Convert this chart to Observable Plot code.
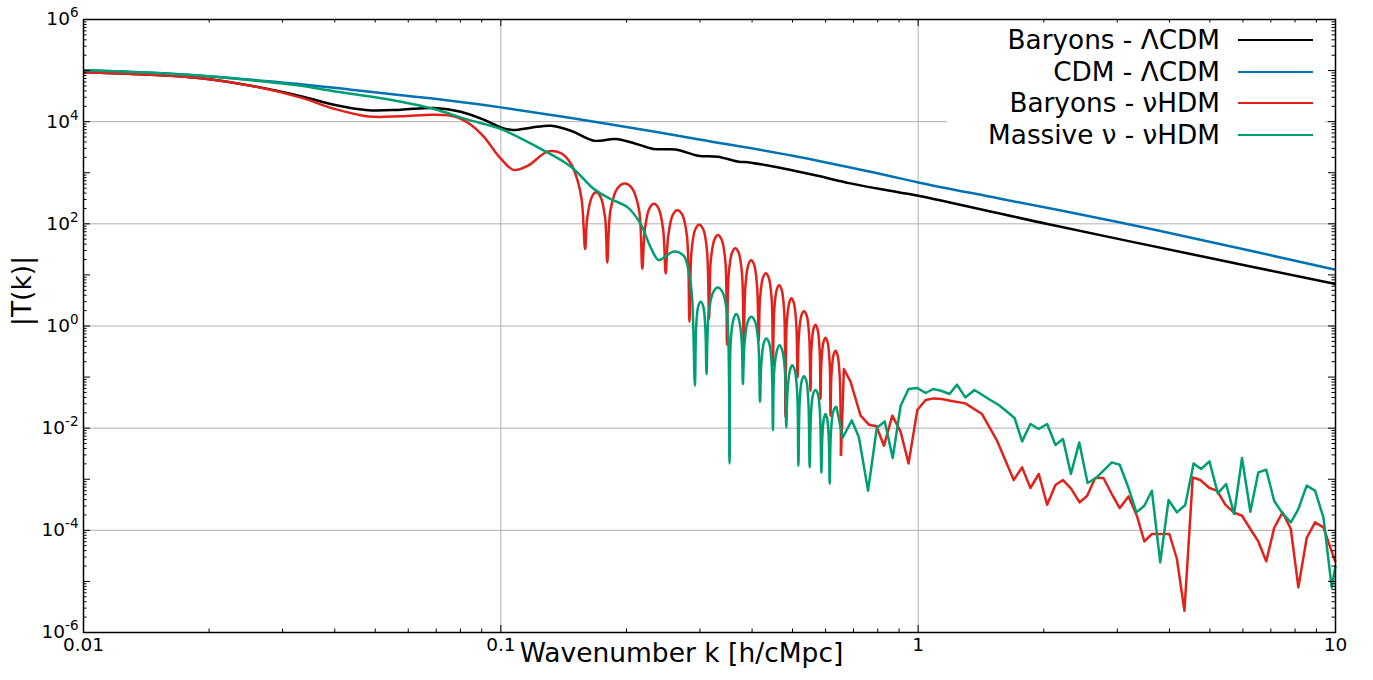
<!DOCTYPE html>
<html>
<head>
<meta charset="utf-8">
<script src="https://cdn.jsdelivr.net/npm/d3@7"></script>
<script src="https://cdn.jsdelivr.net/npm/@observablehq/plot@0.6"></script>
<style>
  html, body { margin: 0; padding: 0; background: #fff; }
  #wrap { position: relative; width: 1373px; height: 680px; font-family: "DejaVu Sans", sans-serif; }
  #legend { position: absolute; left: 947px; top: 24px; width: 378px; height: 128px; background: #fff; }
  .row { display: flex; justify-content: flex-end; align-items: center; height: 31.7px; padding-right: 12px;
         font-size: 26.3px; color: #000; white-space: nowrap; }
  .sw { width: 75px; height: 0; border-top: 2.5px solid; margin-left: 18px; }
</style>
</head>
<body>
<div id="wrap"></div>
<script>
// ---- Data: values, stored as powers of ten (log10 k, log10 |T|) ----
const seriesNames = ["Baryons - \u039BCDM", "CDM - \u039BCDM", "Baryons - \u03BDHDM", "Massive \u03BD - \u03BDHDM"];
const seriesColors = ["#000000", "#0072B2", "#E3211B", "#009E73"];

const blackLog10K = [-2.000, -1.838, -1.718, -1.599, -1.479, -1.400, -1.318, -1.239, -1.160, -1.096,
  -1.041, -1.000, -0.971, -0.928, -0.880, -0.832, -0.777, -0.725, -0.677, -0.634,
  -0.581, -0.528, -0.480, -0.433, -0.401, -0.323, -0.241, -0.162, -0.042, 0.000, 0.310, 0.676, 1.000];
const blackLog10T = [4.969, 4.920, 4.851, 4.704, 4.499, 4.332, 4.225, 4.235, 4.268, 4.195,
  4.039, 3.888, 3.837, 3.882, 3.921, 3.823, 3.628, 3.661, 3.569, 3.465,
  3.455, 3.334, 3.314, 3.222, 3.197, 3.085, 2.942, 2.792, 2.610, 2.551, 1.997, 1.370, 0.822];

const blueLog10K = [-2.000, -1.838, -1.718, -1.599, -1.479, -1.359, -1.239, -1.120, -1.000,
  -0.761, -0.521, -0.282, -0.090, 0.000, 0.197, 0.484, 0.676, 1.000];
const blueLog10T = [5.008, 4.959, 4.900, 4.822, 4.734, 4.626, 4.518, 4.411, 4.280,
  3.980, 3.647, 3.305, 2.976, 2.811, 2.492, 2.028, 1.690, 1.102];

// Baryons - nuHDM: smooth part + oscillating arches (dip, shoulders, peak)
const redOscLog10K = [-2.000, -1.838, -1.718, -1.599, -1.479, -1.400, -1.318, -1.239, -1.160, -1.108,
  -1.072, -1.041, -1.000, -0.969, -0.935, -0.887, -0.856, -0.832, -0.816, -0.806,
  -0.798, -0.793, -0.782, -0.772, -0.761, -0.750,
  -0.745, -0.737, -0.720, -0.703, -0.686, -0.669,
  -0.661, -0.655, -0.644, -0.633, -0.622, -0.611,
  -0.605, -0.599, -0.588, -0.577, -0.565, -0.554,
  -0.548, -0.543, -0.534, -0.525, -0.515, -0.506,
  -0.501, -0.497, -0.488, -0.480, -0.471, -0.462,
  -0.458, -0.454, -0.446, -0.438, -0.430, -0.422,
  -0.418, -0.414, -0.407, -0.400, -0.393, -0.386,
  -0.382, -0.379, -0.372, -0.365, -0.358, -0.351,
  -0.348, -0.345, -0.339, -0.333, -0.327, -0.321,
  -0.318, -0.315, -0.309, -0.304, -0.298, -0.292,
  -0.289, -0.286, -0.280, -0.274, -0.267, -0.261,
  -0.258, -0.256, -0.251, -0.246, -0.241, -0.236,
  -0.234, -0.232, -0.227, -0.222, -0.217, -0.212,
  -0.210, -0.208, -0.203, -0.198, -0.193, -0.188,
  -0.185];
const redOscLog10T = [4.969, 4.920, 4.851, 4.704, 4.470, 4.254, 4.103, 4.107, 4.137, 4.097,
  3.941, 3.706, 3.275, 3.054, 3.138, 3.418, 3.383, 3.177, 2.845, 2.453,
  1.507, 2.106, 2.526, 2.616, 2.526, 2.106,
  1.245, 2.282, 2.702, 2.792, 2.702, 2.282,
  1.122, 1.884, 2.304, 2.394, 2.304, 1.884,
  1.030, 1.757, 2.177, 2.267, 2.177, 1.757,
  0.084, 1.473, 1.893, 1.983, 1.893, 1.473,
  0.143, 1.272, 1.692, 1.782, 1.692, 1.272,
  -0.366, 1.013, 1.433, 1.523, 1.433, 1.013,
  -0.347, 0.778, 1.198, 1.288, 1.198, 0.778,
  -0.288, 0.524, 0.944, 1.034, 0.944, 0.524,
  -0.777, 0.289, 0.709, 0.799, 0.709, 0.289,
  -1.789, 0.034, 0.454, 0.544, 0.454, 0.034,
  -1.006, -0.220, 0.200, 0.290, 0.200, -0.220,
  -1.267, -0.485, -0.065, 0.025, -0.065, -0.485,
  -1.423, -0.739, -0.319, -0.229, -0.319, -0.739,
  -1.756, -0.994, -0.574, -0.484, -0.574, -0.994,
  -2.539];
// Baryons - nuHDM: noisy tail
const redTailLog10K = [-0.185, -0.178, -0.162, -0.138, -0.118, -0.100, -0.082, -0.062, -0.042, -0.023,
  -0.002, 0.018, 0.037, 0.057, 0.077, 0.113, 0.153, 0.189, 0.229, 0.249,
  0.269, 0.289, 0.309, 0.329, 0.347, 0.366, 0.387, 0.405, 0.424, 0.444,
  0.464, 0.483, 0.504, 0.524, 0.542, 0.560, 0.602, 0.620, 0.638, 0.658,
  0.676, 0.698, 0.716, 0.736, 0.756, 0.776, 0.796, 0.815, 0.834, 0.853,
  0.873, 0.893, 0.911, 0.931, 0.951, 0.971, 1.000];
const redTailLog10T = [-2.539, -0.842, -1.090, -1.756, -1.932, -1.962, -2.343, -1.756, -2.069, -2.690,
  -1.644, -1.449, -1.417, -1.429, -1.462, -1.515, -1.723, -2.245, -3.015, -2.768,
  -3.171, -2.897, -3.498, -3.113, -3.015, -3.179, -3.453, -3.322, -2.976, -2.976,
  -3.289, -3.563, -3.336, -3.714, -4.217, -4.072, -4.072, -4.561, -5.574, -2.964,
  -3.015, -3.171, -3.224, -3.498, -3.649, -3.714, -3.974, -4.217, -4.608, -3.955,
  -3.649, -3.974, -5.117, -4.150, -3.845, -3.943, -4.628];

// Massive nu - nuHDM: smooth part + arches
const greenOscLog10K = [-2.000, -1.838, -1.718, -1.599, -1.479, -1.400, -1.318, -1.239, -1.160, -1.079,
  -1.000, -0.911, -0.832, -0.777, -0.737, -0.696, -0.665, -0.641, -0.622, -0.603,
  -0.586, -0.562, -0.550, -0.542,
  -0.535, -0.532, -0.527, -0.521, -0.515, -0.510,
  -0.507, -0.502, -0.491, -0.480, -0.469, -0.458,
  -0.452, -0.449, -0.442, -0.436, -0.430, -0.423,
  -0.420, -0.416, -0.408, -0.400, -0.391, -0.383,
  -0.379, -0.376, -0.370, -0.364, -0.357, -0.351,
  -0.348, -0.345, -0.338, -0.332, -0.326, -0.319,
  -0.316, -0.313, -0.307, -0.302, -0.296, -0.290,
  -0.287, -0.284, -0.279, -0.274, -0.268, -0.263,
  -0.260, -0.257, -0.252, -0.246, -0.240, -0.235,
  -0.232, -0.230, -0.226, -0.222, -0.218, -0.214,
  -0.212, -0.209, -0.203, -0.196];
const greenOscLog10T = [5.008, 4.959, 4.900, 4.812, 4.704, 4.597, 4.499, 4.391, 4.248, 4.039,
  3.857, 3.496, 3.119, 2.682, 2.486, 2.322, 1.997, 1.539, 1.292, 1.376,
  1.460, 1.376, 1.083, 0.593,
  -1.169, -0.034, 0.386, 0.476, 0.386, -0.034,
  -0.940, 0.246, 0.666, 0.756, 0.666, 0.246,
  -2.690, -0.275, 0.145, 0.235, 0.145, -0.275,
  -1.135, -0.328, 0.092, 0.182, 0.092, -0.328,
  -1.482, -0.755, -0.335, -0.245, -0.335, -0.755,
  -2.036, -0.886, -0.466, -0.376, -0.466, -0.886,
  -1.985, -1.277, -0.857, -0.767, -0.857, -1.277,
  -2.735, -1.493, -1.073, -0.983, -1.073, -1.493,
  -2.768, -1.763, -1.343, -1.253, -1.343, -1.763,
  -2.872, -2.233, -1.813, -1.723, -1.813, -2.233,
  -3.087, -2.080, -1.660, -1.570];
// Massive nu - nuHDM: noisy tail
const greenTailLog10K = [-0.196, -0.181, -0.159, -0.142, -0.120, -0.099, -0.080, -0.061, -0.042, -0.023,
  -0.002, 0.018, 0.036, 0.055, 0.075, 0.093, 0.113, 0.135, 0.173, 0.193,
  0.213, 0.231, 0.249, 0.269, 0.289, 0.309, 0.329, 0.347, 0.366, 0.386,
  0.406, 0.426, 0.464, 0.483, 0.504, 0.523, 0.542, 0.560, 0.580, 0.600,
  0.620, 0.640, 0.660, 0.678, 0.698, 0.718, 0.738, 0.757, 0.776, 0.796,
  0.815, 0.834, 0.853, 0.873, 0.893, 0.911, 0.931, 0.951, 0.971, 0.991, 1.000];
const greenTailLog10T = [-1.570, -2.187, -1.848, -2.177, -3.224, -1.991, -1.868, -2.584, -1.560, -1.233,
  -1.214, -1.312, -1.233, -1.267, -1.331, -1.149, -1.398, -1.253, -1.449, -1.547,
  -1.678, -1.801, -2.259, -1.919, -2.016, -1.919, -2.330, -2.212, -2.897, -2.279,
  -3.074, -2.976, -2.670, -2.715, -3.171, -3.649, -3.518, -3.224, -4.628, -3.406,
  -3.649, -3.504, -2.690, -2.800, -2.651, -3.277, -3.093, -3.680, -2.584, -3.635,
  -2.866, -2.813, -3.420, -3.669, -3.845, -3.583, -3.126, -3.224, -3.747, -5.117, -4.693];

// Axis ticks / labels
const xTickValues = [0.01, 0.1, 1, 10];
const xTickLabels = ["0.01", "0.1", "1", "10"];
const yTickExponents = [-6, -4, -2, 0, 2, 4, 6];
const xGridValues = [0.1, 1];
const yGridExponents = [-4, -2, 0, 2, 4];
const xLabel = "Wavenumber k [h/cMpc]";
const yLabel = "|T(k)|";

// ---- Build ----
const W = 1373, H = 680, mL = 83, mR = 38, mT = 19, mB = 48;
const frameW = W - mL - mR, frameH = H - mT - mB;
const rows = (lk, lt) => lk.map((v, i) => ({k: 10 ** v, T: 10 ** lt[i]}));

const xMajor = [], xMinor = [];
for (const e of [-2, -1, 0]) for (let m = 1; m <= 9; m++) (m === 1 ? xMajor : xMinor).push(Number(m + "e" + e));
xMajor.push(10);
const yMajor = [], yMinor = [];
for (let e = -6; e <= 5; e++) for (let m = 1; m <= 9; m++) (m === 1 ? yMajor : yMinor).push(Number(m + "e" + e));
yMajor.push(1e6);

const lineOpts = (color, curve) => ({x: "k", y: "T", stroke: color, strokeWidth: 2.5, curve,
  strokeLinejoin: "round", strokeLinecap: "butt"});

const tickCol = "#000";
const chart = Plot.plot({
  width: W, height: H,
  marginLeft: mL, marginRight: mR, marginTop: mT, marginBottom: mB,
  style: {fontFamily: "DejaVu Sans, sans-serif", fontSize: "18px", color: "#000", background: "#fff"},
  x: {type: "log", domain: [0.01, 10], axis: null},
  y: {type: "log", domain: [1e-6, 1e6], axis: null},
  marks: [
    Plot.ruleX(xGridValues, {x: d => d, stroke: "#b0b0b0", strokeWidth: 1}),
    Plot.ruleY(yGridExponents.map(e => Number("1e" + e)), {y: d => d, stroke: "#b0b0b0", strokeWidth: 1}),
    Plot.line(rows(blackLog10K, blackLog10T), lineOpts(seriesColors[0], "catmull-rom")),
    Plot.line(rows(blueLog10K, blueLog10T), lineOpts(seriesColors[1], "catmull-rom")),
    Plot.line(rows(redOscLog10K, redOscLog10T), lineOpts(seriesColors[2], "catmull-rom")),
    Plot.line(rows(redTailLog10K, redTailLog10T), lineOpts(seriesColors[2], "linear")),
    Plot.line(rows(greenOscLog10K, greenOscLog10T), lineOpts(seriesColors[3], "catmull-rom")),
    Plot.line(rows(greenTailLog10K, greenTailLog10T), lineOpts(seriesColors[3], "linear")),
    // inward ticks on all four sides
    Plot.tickX(xMajor, {x: d => d, insetTop: frameH - 7, stroke: tickCol}),
    Plot.tickX(xMajor, {x: d => d, insetBottom: frameH - 7, stroke: tickCol}),
    Plot.tickX(xMinor, {x: d => d, insetTop: frameH - 3.5, stroke: tickCol}),
    Plot.tickX(xMinor, {x: d => d, insetBottom: frameH - 3.5, stroke: tickCol}),
    Plot.tickY(yMajor, {y: d => d, insetRight: frameW - 7, stroke: tickCol}),
    Plot.tickY(yMajor, {y: d => d, insetLeft: frameW - 7, stroke: tickCol}),
    Plot.tickY(yMinor, {y: d => d, insetRight: frameW - 3.5, stroke: tickCol}),
    Plot.tickY(yMinor, {y: d => d, insetLeft: frameW - 3.5, stroke: tickCol}),
    Plot.axisX({ticks: xTickValues, tickSize: 0, tickPadding: 5, label: null, fontSize: 18.5,
      tickFormat: d => xTickLabels[xTickValues.indexOf(d)]}),
    Plot.axisY({ticks: yTickExponents.map(e => Number("1e" + e)), tickSize: 0, tickPadding: 5,
      label: null, fontSize: 18.5,
      tickFormat: d => "10^" + Math.round(Math.log10(d))}),
    Plot.text([xLabel], {text: d => d, frameAnchor: "bottom", dx: -28, dy: 29, fontSize: 26.5}),
    Plot.text([yLabel], {text: d => d, frameAnchor: "left", dx: -61, rotate: -90, fontSize: 26.5}),
    Plot.frame({stroke: "#000", strokeWidth: 1.5})
  ]
});

// superscript exponents on y tick labels
const NS = "http://www.w3.org/2000/svg";
chart.querySelectorAll('g[aria-label="y-axis tick label"] text').forEach(t => {
  const m = t.textContent.match(/^10\^(-?\d+)$/);
  if (!m) return;
  t.textContent = "";
  const base = document.createElementNS(NS, "tspan");
  base.textContent = "10";
  const sup = document.createElementNS(NS, "tspan");
  sup.textContent = m[1];
  sup.setAttribute("dy", "-8");
  sup.setAttribute("font-size", "13.5");
  t.appendChild(base);
  t.appendChild(sup);
});

const wrap = document.getElementById("wrap");
wrap.appendChild(chart);

// legend (inside plot area, upper right, white box)
const legend = document.createElement("div");
legend.id = "legend";
seriesNames.forEach((name, i) => {
  const row = document.createElement("div");
  row.className = "row";
  const label = document.createElement("span");
  label.textContent = name;
  const sw = document.createElement("span");
  sw.className = "sw";
  sw.style.borderTopColor = seriesColors[i];
  row.appendChild(label);
  row.appendChild(sw);
  legend.appendChild(row);
});
wrap.appendChild(legend);
</script>
</body>
</html>
